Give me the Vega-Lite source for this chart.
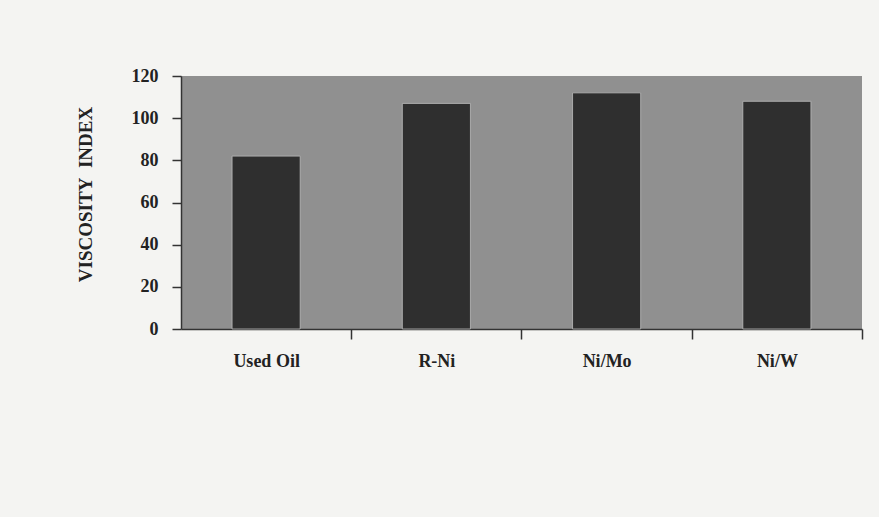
{
  "$schema": "https://vega.github.io/schema/vega-lite/v6.json",
  "width": 681,
  "height": 253,
  "autosize": {"type": "none"},
  "padding": {"left": 181, "top": 76, "right": 17, "bottom": 188},
  "background": "#f4f4f2",
  "data": {
    "values": [
      {"catalyst": "Used Oil", "vi": 82},
      {"catalyst": "R-Ni", "vi": 107},
      {"catalyst": "Ni/Mo", "vi": 112},
      {"catalyst": "Ni/W", "vi": 108}
    ]
  },
  "mark": {"type": "bar", "color": "#2f2f2f", "stroke": "#bdbdbd", "strokeWidth": 0.8},
  "encoding": {
    "x": {
      "field": "catalyst",
      "type": "nominal",
      "sort": null,
      "scale": {"paddingInner": 0.6, "paddingOuter": 0.3},
      "axis": {
        "title": null,
        "labelAngle": 0,
        "tickOffset": 85,
        "labelOffset": -85,
        "tickSize": 10,
        "tickColor": "#333",
        "tickWidth": 1.5,
        "domainColor": "#333",
        "domainWidth": 1.5,
        "labelFont": "Liberation Serif",
        "labelFontWeight": "bold",
        "labelFontSize": 18,
        "labelColor": "#222",
        "labelPadding": 13
      }
    },
    "y": {
      "field": "vi",
      "type": "quantitative",
      "scale": {"domain": [0, 120]},
      "axis": {
        "title": "VISCOSITY\u00a0\u00a0INDEX",
        "values": [0, 20, 40, 60, 80, 100, 120],
        "grid": false,
        "tickSize": 9,
        "tickColor": "#333",
        "tickWidth": 1.5,
        "domainColor": "#333",
        "domainWidth": 1.5,
        "labelFont": "Liberation Serif",
        "labelFontWeight": "bold",
        "labelFontSize": 18,
        "labelColor": "#222",
        "labelPadding": 14,
        "titleFont": "Liberation Serif",
        "titleFontWeight": "bold",
        "titleFontSize": 19,
        "titleColor": "#222",
        "titlePadding": 36,
        "titleY": 118
      }
    }
  },
  "config": {
    "view": {"fill": "#909090", "stroke": null}
  }
}
